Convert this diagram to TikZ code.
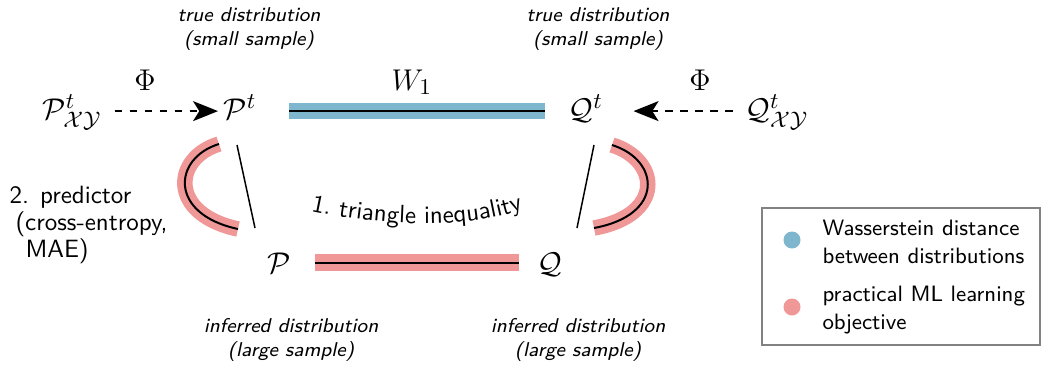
\documentclass[tikz,border=0pt]{standalone}
\usetikzlibrary{arrows.meta,decorations.text}
\definecolor{wblue}{RGB}{126,182,205}
\definecolor{wpink}{RGB}{240,152,152}
\definecolor{lgray}{RGB}{130,130,130}
\begin{document}
\begin{tikzpicture}[x=0.4pt,y=-0.4pt,
  mth/.style={inner sep=0pt, font=\fontsize{13}{15}\selectfont},
  lbl/.style={inner sep=0pt, font=\sffamily\itshape\footnotesize, align=center},
  sflbl/.style={inner sep=0pt, font=\sffamily\fontsize{10}{12}\selectfont},
  lgtext/.style={inner sep=0pt, anchor=base west, align=left, font=\sffamily\fontsize{8.9}{11.2}\selectfont},
  dasharrow/.style={dashed, line width=0.7pt, -{Stealth[length=10pt,width=8pt,inset=2.5pt]}},
  bluebar/.style={draw=wblue, line width=6.4pt, postaction={draw=black, line width=0.8pt}},
  pinkbar/.style={draw=wpink, line width=6.8pt, postaction={draw=black, line width=0.8pt}},
  pinkarc/.style={draw=wpink, line width=6.2pt, postaction={draw=black, line width=0.8pt}},
  thinline/.style={line width=0.6pt}
]
\useasboundingbox (0,0) rectangle (1047,368);

% math nodes
\node[mth, anchor=base] (Pxy) at (72,119) {$\mathcal{P}^t_{\mathcal{X}\mathcal{Y}}$};
\node[mth, anchor=base] (Pt) at (240,119) {$\mathcal{P}^t$};
\node[mth, anchor=base] (Qt) at (586,119) {$\mathcal{Q}^t$};
\node[mth, anchor=base] (Qxy) at (777,119) {$\mathcal{Q}^t_{\mathcal{X}\mathcal{Y}}$};
\node[mth, anchor=base] (P) at (279,273) {$\mathcal{P}$};
\node[mth, anchor=base] (Q) at (550,273) {$\mathcal{Q}$};

% Phi and W1
\node[inner sep=0pt, font=\fontsize{13}{15}\selectfont] (phil) at (145,80) {$\Phi$};
\node[inner sep=0pt, font=\fontsize{13}{15}\selectfont] (phir) at (700,80) {$\Phi$};
\node[inner sep=0pt, font=\fontsize{13}{15}\selectfont] (w1) at (412,82) {$W_1$};

% dashed arrows
\draw[dasharrow] ([xshift=5pt,yshift=1pt]Pxy.mid east) -- ([xshift=-2pt,yshift=1pt]Pt.mid west);
\draw[dasharrow] ([xshift=-5pt,yshift=1pt]Qxy.mid west) -- ([xshift=12pt,yshift=1pt]Qt.mid east);

% bars
\draw[bluebar] ([xshift=13pt,yshift=1pt]Pt.mid east) -- ([xshift=-9.5pt,yshift=1pt]Qt.mid west);
\draw[pinkbar] ([xshift=9.5pt,yshift=2pt]P.mid east) -- ([xshift=-7.5pt,yshift=2pt]Q.mid west);

% arcs (predictor objective)
\draw[pinkarc] (219,144) .. controls (173,158) and (168,214) .. (238,229);
\draw[pinkarc] (612,145) .. controls (660,160) and (665,215) .. (594,228);

% thin triangle sides
\draw[thinline] (237,145) -- (255,228);
\draw[thinline] (594,145) -- (577,228);

% curved text
\path[decorate, decoration={text along path, text align=center,
  text format delimiters={|}{|},
  text={|\sffamily\fontsize{10}{12}\selectfont|1. triangle inequality}}]
  (310,211) .. controls (390,228) and (470,228) .. (524,209);

% italic labels
\node[lbl] (tl) at (249,29) {true distribution\\(small sample)};
\node[lbl] (tr) at (598,29) {true distribution\\(small sample)};
\node[lbl] (bl) at (291,340) {inferred distribution\\(large sample)};
\node[lbl] (br) at (578,340) {inferred distribution\\(large sample)};

% left label
\node[sflbl, anchor=base west] (p1) at (9,203) {2. predictor};
\node[sflbl, anchor=base west] (p2) at (15,230) {(cross-entropy,};
\node[sflbl, anchor=base west] (p3) at (25,257) {MAE)};

% legend
\draw[lgray, line width=0.8pt] (762,208) rectangle (1040,345);
\fill[wblue] (792,240) circle[radius=8.5];
\fill[wpink] (792,307) circle[radius=8.5];
\node[lgtext] (lg1) at (822,263) {Wasserstein distance\\between distributions};
\node[lgtext] (lg2) at (822,329) {practical ML learning\\objective};
\end{tikzpicture}
\end{document}
